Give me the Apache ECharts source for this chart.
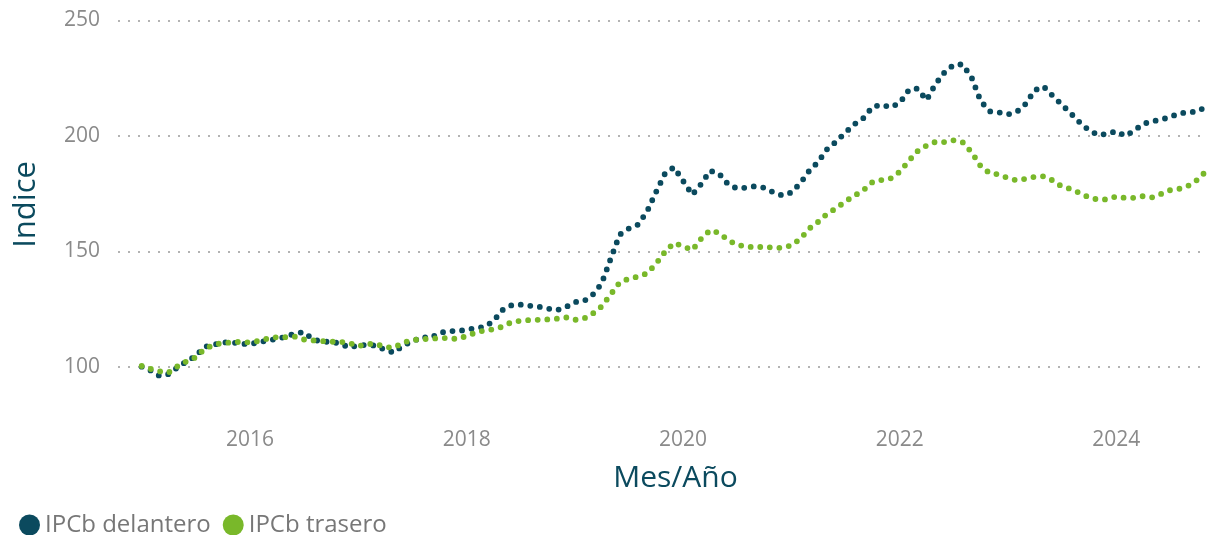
<!DOCTYPE html>
<html>
<head>
    <meta charset="utf-8">
    <script type="text/javascript" src="https://cdn.jsdelivr.net/npm/echarts@6/dist/echarts.min.js"></script>
    <title>IPCb</title>
    <style>
        html, body { margin: 0; padding: 0; background: #fff; }
    </style>
</head>
<body>
<div id="main" style="width: 1207px;height:535px;"></div>
<script type="text/javascript">

    // meses 2015-01 .. 2024-11
    var meses = [];
    for (var a = 2015; a <= 2024; a++) {
        for (var m = 1; m <= 12; m++) {
            if (a === 2024 && m > 11) break;
            meses.push(a + '-' + (m < 10 ? '0' + m : m));
        }
    }

    var delantero = [
        100.0, 98.3, 96.1, 96.8, 99.6, 102.3, 104.5, 108.6, 109.5, 110.5, 110.6, 109.9,
        109.8, 110.6, 111.4, 112.0, 113.0, 114.4, 115.0, 111.8, 110.8, 110.8, 110.0, 108.3,
        109.3, 109.4, 109.1, 107.3, 106.1, 109.3, 110.8, 112.8, 112.5, 114.6, 115.5, 115.4,
        116.0, 116.8, 117.2, 119.7, 124.5, 126.6, 126.9, 126.4, 126.0, 125.2, 124.5, 125.8,
        128.0, 128.5, 131.0, 136.0, 146.5, 157.2, 159.8, 161.5, 167.1, 175.5, 183.7, 186.4,
        180.5, 174.5, 179.0, 184.9, 183.7, 179.0, 177.2, 177.6, 178.2, 177.5, 175.5, 174.2,
        175.5, 179.8, 184.8, 188.8, 194.3, 197.6, 201.4, 205.1, 207.8, 212.6, 213.5, 212.4,
        214.3, 220.0, 220.5, 215.5, 222.4, 227.6, 230.7, 231.0, 225.0, 215.0, 210.6, 210.2,
        209.3, 210.6, 213.8, 219.8, 221.4, 217.3, 213.6, 209.7, 205.7, 202.4, 200.4, 200.9,
        202.0, 200.0, 202.3, 205.2, 206.3, 207.1, 208.2, 209.8, 210.2, 210.6, 212.8
    ];

    var trasero = [
        100.3, 99.0, 98.0, 97.4, 100.1, 102.3, 104.0, 107.7, 109.5, 110.3, 110.5, 110.8,
        110.5, 111.2, 112.2, 112.8, 112.8, 113.0, 111.8, 111.4, 111.1, 110.8, 110.8, 110.3,
        108.9, 109.8, 109.9, 108.5, 108.3, 110.5, 111.5, 112.0, 112.0, 112.5, 112.3, 112.0,
        113.3, 114.8, 115.7, 116.2, 117.3, 119.3, 119.9, 120.2, 120.3, 120.5, 120.8, 121.4,
        120.3, 120.9, 122.9, 126.1, 131.2, 136.5, 138.1, 139.0, 140.4, 144.5, 149.8, 153.6,
        152.2, 150.5, 155.3, 159.1, 158.0, 154.8, 152.8, 152.1, 151.7, 152.0, 151.5, 151.5,
        152.6, 155.6, 159.8, 162.8, 166.3, 168.7, 171.6, 174.1, 176.6, 180.0, 180.9, 181.6,
        184.5, 189.3, 193.3, 195.8, 197.4, 197.3, 198.1, 197.2, 192.8, 186.8, 183.8, 183.3,
        181.7, 180.7, 181.4, 182.3, 182.5, 180.7, 178.1, 177.0, 175.2, 173.3, 172.4, 172.5,
        173.8, 173.1, 173.2, 173.9, 173.4, 174.9, 176.5, 177.1, 178.5, 181.0, 185.0
    ];

    var aniosX = [2016, 2018, 2020, 2022, 2024];
    var etiquetasY = [100, 150, 200, 250];

    function fecha(texto) {
        var p = texto.split('-');
        return new Date(+p[0], +p[1] - 1, p[2] ? +p[2] : 1).getTime();
    }

    function pares(valores) {
        var out = [];
        for (var i = 0; i < valores.length; i++) {
            out.push([fecha(meses[i]), valores[i]]);
        }
        return out;
    }

    var etiquetasX = aniosX.map(function (y) { return fecha(y + '-01'); });

    var fuente = '"Segoe UI", "Open Sans", sans-serif';
    var lineaPunteada = function (color) {
        return {
            color: color,
            width: 5.8,
            type: [0, 9.6],
            cap: 'round',
            join: 'round'
        };
    };

    var myChart = echarts.init(document.getElementById('main'));

    var option = {
        animation: false,
        textStyle: { fontFamily: fuente },
        grid: {
            left: 118,
            right: 0,
            top: 20.5,
            bottom: 110.6,
            containLabel: false,
            outerBoundsMode: 'none'
        },
        legend: {
            left: 14,
            top: 508,
            icon: 'circle',
            itemWidth: 21,
            itemHeight: 21,
            itemGap: 12,
            textStyle: { fontSize: 24, color: '#777777', fontFamily: fuente },
            data: ['IPCb delantero', 'IPCb trasero']
        },
        xAxis: {
            type: 'value',
            min: fecha('2014-10-13'),
            max: fecha('2024-11-02'),
            name: 'Mes/Año',
            nameLocation: 'middle',
            nameGap: 39,
            nameTextStyle: { fontSize: 30, color: '#0b4a5e', fontFamily: fuente, padding: [0, 0, 0, 26] },
            axisLine: { show: false },
            axisTick: { show: false, customValues: etiquetasX },
            splitLine: { show: false },
            axisLabel: {
                customValues: etiquetasX,
                margin: 5,
                fontSize: 21,
                color: '#8a8a8a',
                fontFamily: fuente,
                formatter: function (v) { return String(new Date(v).getFullYear()); }
            }
        },
        yAxis: {
            type: 'value',
            min: 75,
            max: 250,
            name: 'Indice',
            nameLocation: 'middle',
            nameRotate: 90,
            nameGap: 76,
            nameTextStyle: { fontSize: 31, color: '#0b4a5e', fontFamily: fuente, padding: [0, 0, 0, 36] },
            axisLine: { show: false },
            axisTick: { show: false, customValues: etiquetasY },
            axisLabel: {
                customValues: etiquetasY,
                margin: 18,
                fontSize: 21,
                color: '#8a8a8a',
                fontFamily: fuente
            },
            splitLine: {
                show: true,
                lineStyle: { color: '#b3b3b3', width: 2, type: [2, 8] }
            }
        },
        series: [{
            name: 'IPCb delantero',
            type: 'line',
            showSymbol: false,
            symbol: 'circle',
            itemStyle: { color: '#0b4a5e' },
            lineStyle: lineaPunteada('#0b4a5e'),
            data: pares(delantero)
        }, {
            name: 'IPCb trasero',
            type: 'line',
            showSymbol: false,
            symbol: 'circle',
            itemStyle: { color: '#79b82a' },
            lineStyle: lineaPunteada('#79b82a'),
            data: pares(trasero)
        }]
    };
    myChart.setOption(option);

</script>
</body>
</html>
